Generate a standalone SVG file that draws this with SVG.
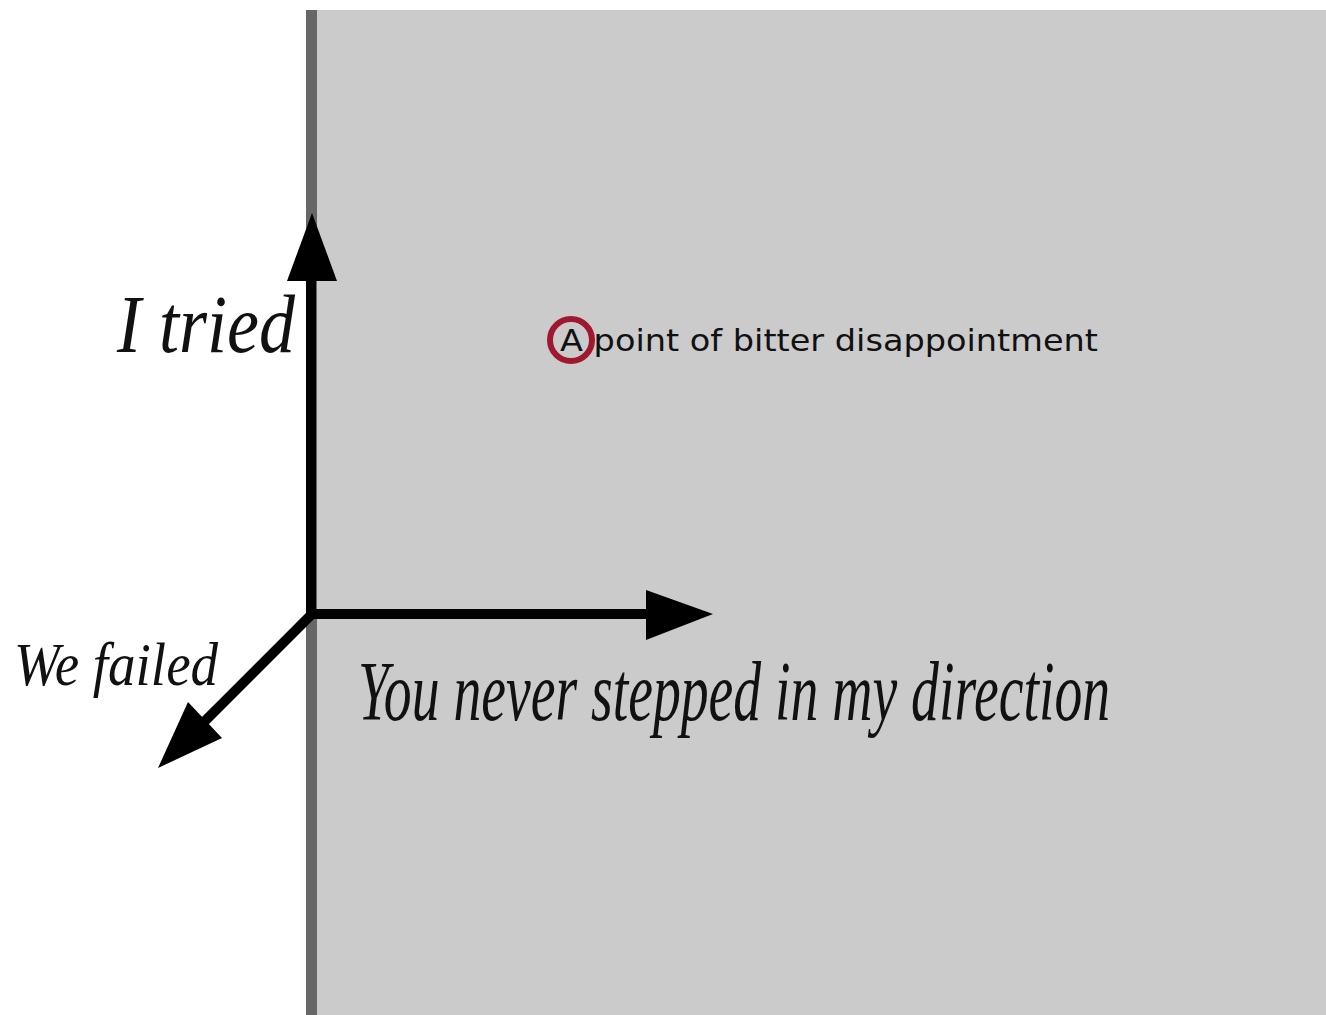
<svg xmlns="http://www.w3.org/2000/svg" width="1326" height="1015" viewBox="0 0 1326 1015">
<style>
.lbl{font-family:"Liberation Serif","DejaVu Serif",serif;font-style:italic;fill:#111}
.pt{font-family:"DejaVu Sans","Liberation Sans",sans-serif;fill:#111}
.ax{stroke:#000;stroke-width:10;fill:none}
.hd{fill:#000}
</style>
<rect width="1326" height="1015" fill="#fff"/>
<g id="panel">
<rect x="306" y="10" width="1020" height="1005" fill="#cbcbcb"/>
<rect x="306" y="10" width="11" height="1005" fill="#676767"/>
</g>
<g id="connectors">
<line class="ax" x1="311" y1="619" x2="311" y2="275"/>
<polygon class="hd" points="312,213 337,281 287,281"/>
<line class="ax" x1="306" y1="614" x2="652" y2="614"/>
<polygon class="hd" points="713,614 646,590 646,640"/>
<line class="ax" x1="313" y1="613" x2="195" y2="731"/>
<polygon class="hd" points="158,768 188,702 222,738"/>
</g>
<g id="label-tried"><text class="lbl" x="117" y="352" font-size="82" textLength="178" lengthAdjust="spacingAndGlyphs">I tried</text></g>
<g id="label-failed"><text class="lbl" x="14" y="685" font-size="62" textLength="204" lengthAdjust="spacingAndGlyphs">We failed</text></g>
<g id="label-never" transform="translate(358,720) scale(0.68,1)"><text class="lbl" x="0" y="0" font-size="84" textLength="1106" lengthAdjust="spacingAndGlyphs">You never stepped in my direction</text></g>
<g id="point">
<circle cx="571" cy="340" r="21" fill="none" stroke="#a0182f" stroke-width="6"/>
<text class="pt" x="560" y="351" font-size="31" textLength="538" lengthAdjust="spacingAndGlyphs">A point of bitter disappointment</text>
</g>
</svg>
